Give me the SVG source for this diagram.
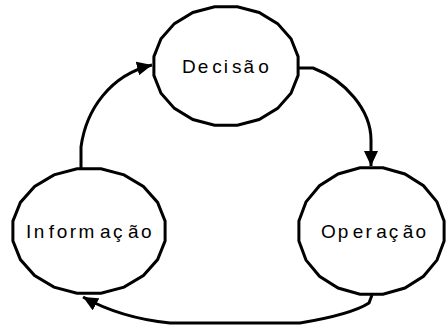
<svg xmlns="http://www.w3.org/2000/svg" width="446" height="328" viewBox="0 0 446 328">
  <style>
    .shape { fill: #ffffff; stroke: #000000; stroke-width: 3; stroke-linejoin: miter; }
    .edge { fill: none; stroke: #000000; stroke-width: 3; }
    .label { font-family: "Liberation Sans", Arial, sans-serif; font-size: 19px; fill: #000000; letter-spacing: 2px; }
  </style>
  <defs>
    <marker id="arrow" markerUnits="userSpaceOnUse" markerWidth="16" markerHeight="14" refX="15" refY="7" orient="auto">
      <path d="M0,0 L15,7 L0,14 z" fill="#000000"/>
    </marker>
  </defs>
  <rect width="446" height="328" fill="#ffffff"/>

  <!-- connectors of the cycle -->
  <g id="connectors">
    <path class="edge" d="M81,168 L81,147 C86,110 110,75 152,65" marker-end="url(#arrow)"/>
    <path class="edge" d="M298,68 L313,68 C345,80 371,110 371,140 L371,166" marker-end="url(#arrow)"/>
    <path class="edge" d="M372,295 L369,303 C355,312 330,318 300,323 L170,323 C140,320 110,312 83,297" marker-end="url(#arrow)"/>
  </g>

  <!-- Decisão -->
  <g id="decisao">
    <polygon class="shape" points="298.1,56.6 291.0,38.8 277.6,23.6 259.1,12.5 237.4,6.7 214.6,6.7 192.9,12.5 174.4,23.6 161.0,38.8 153.9,56.6 153.9,75.4 161.0,93.2 174.4,108.4 192.9,119.5 214.6,125.3 237.4,125.3 259.1,119.5 277.6,108.4 291.0,93.2 298.1,75.4"/>
    <text class="label" x="182" y="73" dx="0 0 2 0 2 0 2">Decisão</text>
  </g>

  <!-- Informação -->
  <g id="informacao">
    <polygon class="shape" points="165.1,221.1 157.6,202.4 143.4,186.5 124.0,174.9 101.0,168.8 77.0,168.8 54.0,174.9 34.6,186.5 20.4,202.4 12.9,221.1 12.9,240.9 20.4,259.6 34.6,275.5 54.0,287.1 77.0,293.2 101.0,293.2 124.0,287.1 143.4,275.5 157.6,259.6 165.1,240.9"/>
    <text class="label" x="26" y="238" style="letter-spacing:2.5px" dx="0 0 2 0 0 0 3 0 3 0">Informação</text>
  </g>

  <!-- Operação -->
  <g id="operacao">
    <polygon class="shape" points="444.1,221.0 437.0,201.9 423.5,185.7 404.9,174.0 383.0,167.8 360.0,167.8 338.1,174.0 319.5,185.7 306.0,201.9 298.9,221.0 298.9,241.0 306.0,260.1 319.5,276.3 338.1,288.0 360.0,294.2 383.0,294.2 404.9,288.0 423.5,276.3 437.0,260.1 444.1,241.0"/>
    <text class="label" x="321" y="238" dx="0 0 2.5 0 2.5 0 2.5 0">Operação</text>
  </g>
</svg>
